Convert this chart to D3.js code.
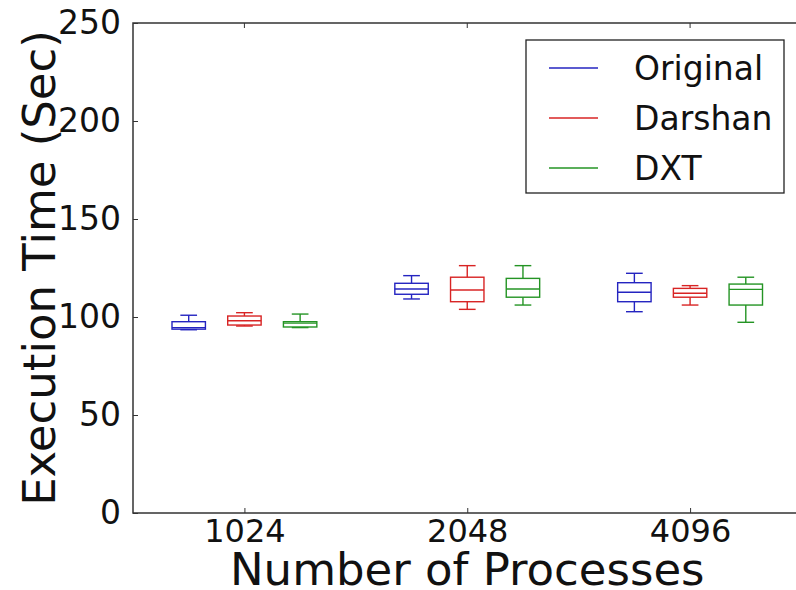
<!DOCTYPE html>
<html>
<head>
<meta charset="utf-8">
<script src="https://cdn.jsdelivr.net/npm/d3@7"></script>
<style>
  body { margin: 0; background: #fff; }
  svg { display: block; font-family: "DejaVu Sans", sans-serif; }
</style>
</head>
<body>
<svg id="chart" width="796" height="590"></svg>
<script>
// categories and series
var categories = ["1024", "2048", "4096"];
var seriesNames = ["Original", "Darshan", "DXT"];
var yTicks = [0, 50, 100, 150, 200, 250];

// box stats per category: [low whisker, q1, median, q3, high whisker]
var originalStats = [
  [93.5, 93.8, 94.6, 97.6, 100.9],
  [109.2, 111.6, 114.3, 117.2, 121.1],
  [102.7, 107.8, 112.6, 117.5, 122.3]
];
var darshanStats = [
  [95.4, 95.9, 98.1, 100.5, 102.2],
  [103.9, 107.8, 113.8, 120.3, 126.2],
  [106.1, 110.1, 112.1, 114.6, 116.0]
];
var dxtStats = [
  [94.6, 94.9, 96.9, 97.6, 101.5],
  [106.1, 110.1, 114.3, 119.7, 126.2],
  [97.3, 106.1, 114.1, 116.8, 120.3]
];

var colors = ["#2424c0", "#d82424", "#249424"];
var allStats = [originalStats, darshanStats, dxtStats];

var svg = d3.select("#chart");

// set the dimensions of the plot area
var margin = { top: 23, left: 133, bottom: 513 };

var xScale = d3.scaleLinear()
  .domain([0.5, 3.5])
  .range([margin.left, 801.5]);

var yScale = d3.scaleLinear()
  .domain([0, 250])
  .range([margin.bottom, margin.top]);

var offsets = [-0.25, 0, 0.25];
var boxW = 0.15;
var capW = 0.075;

// boxes
allStats.forEach(function(stats, si) {
  var g = svg.append("g")
    .attr("fill", "none")
    .attr("stroke", colors[si])
    .attr("stroke-width", 1.4);

  stats.forEach(function(s, ci) {
    var cx = ci + 1 + offsets[si];
    var x0 = xScale(cx - boxW / 2), x1 = xScale(cx + boxW / 2);
    var c0 = xScale(cx - capW / 2), c1 = xScale(cx + capW / 2);
    var xc = xScale(cx);

    // whiskers
    g.append("line").attr("x1", xc).attr("x2", xc)
      .attr("y1", yScale(s[0])).attr("y2", yScale(s[1]));
    g.append("line").attr("x1", xc).attr("x2", xc)
      .attr("y1", yScale(s[3])).attr("y2", yScale(s[4]));
    // caps
    g.append("line").attr("x1", c0).attr("x2", c1)
      .attr("y1", yScale(s[0])).attr("y2", yScale(s[0]));
    g.append("line").attr("x1", c0).attr("x2", c1)
      .attr("y1", yScale(s[4])).attr("y2", yScale(s[4]));
    // box
    g.append("rect")
      .attr("x", x0).attr("y", yScale(s[3]))
      .attr("width", x1 - x0)
      .attr("height", yScale(s[1]) - yScale(s[3]));
    // median
    g.append("line").attr("x1", x0).attr("x2", x1)
      .attr("y1", yScale(s[2])).attr("y2", yScale(s[2]));
  });
});

// axes frame (right spine falls just outside the window)
svg.append("rect")
  .attr("x", margin.left)
  .attr("y", margin.top)
  .attr("width", xScale(3.5) - margin.left)
  .attr("height", margin.bottom - margin.top)
  .attr("fill", "none")
  .attr("stroke", "#333")
  .attr("stroke-width", 1.5);

// y axis, ticks inside
var yAxis = d3.axisLeft(yScale)
  .tickValues(yTicks)
  .tickSizeInner(-5)
  .tickSizeOuter(0)
  .tickPadding(12);

svg.append("g")
  .attr("transform", "translate(" + margin.left + ",0)")
  .call(yAxis)
  .call(function(g) {
    g.select(".domain").remove();
    g.selectAll(".tick line").attr("stroke", "#333");
    g.selectAll("text")
      .attr("font-size", 33)
      .attr("fill", "#111")
      .attr("font-family", "DejaVu Sans");
  });

// x axis, ticks inside
var xAxis = d3.axisBottom(xScale)
  .tickValues([1, 2, 3])
  .tickFormat(function(d) { return categories[d - 1]; })
  .tickSizeInner(-5)
  .tickSizeOuter(0)
  .tickPadding(6);

svg.append("g")
  .attr("transform", "translate(0," + margin.bottom + ")")
  .call(xAxis)
  .call(function(g) {
    g.select(".domain").remove();
    g.selectAll(".tick line").attr("stroke", "#333");
    g.selectAll("text")
      .attr("font-size", 32)
      .attr("fill", "#111")
      .attr("font-family", "DejaVu Sans");
  });

// top ticks
svg.append("g")
  .selectAll("line")
  .data([1, 2, 3])
  .join("line")
  .attr("x1", function(d) { return xScale(d); })
  .attr("x2", function(d) { return xScale(d); })
  .attr("y1", margin.top)
  .attr("y2", margin.top + 5)
  .attr("stroke", "#333");

// axis titles
svg.append("text")
  .attr("x", (xScale(0.5) + xScale(3.5)) / 2)
  .attr("y", 585)
  .attr("text-anchor", "middle")
  .attr("font-size", 45)
  .attr("fill", "#111")
  .text("Number of Processes");

svg.append("text")
  .attr("transform", "translate(55," + (margin.top + margin.bottom) / 2 + ") rotate(-90)")
  .attr("text-anchor", "middle")
  .attr("font-size", 45)
  .attr("fill", "#111")
  .text("Execution Time (Sec)");

// legend
var legend = svg.append("g");
legend.append("rect")
  .attr("x", 526).attr("y", 40)
  .attr("width", 258).attr("height", 153)
  .attr("fill", "#fff")
  .attr("stroke", "#222")
  .attr("stroke-width", 1.3);

var rows = legend.selectAll("g.row")
  .data(seriesNames)
  .join("g")
  .attr("class", "row")
  .attr("transform", function(d, i) { return "translate(0," + (68 + i * 50) + ")"; });

rows.append("line")
  .attr("x1", 549).attr("x2", 598)
  .attr("stroke", function(d, i) { return colors[i]; })
  .attr("stroke-width", 1.3);

rows.append("text")
  .attr("x", 634)
  .attr("dy", "0.35em")
  .attr("font-size", 33)
  .attr("fill", "#111")
  .text(function(d) { return d; });
</script>
</body>
</html>
